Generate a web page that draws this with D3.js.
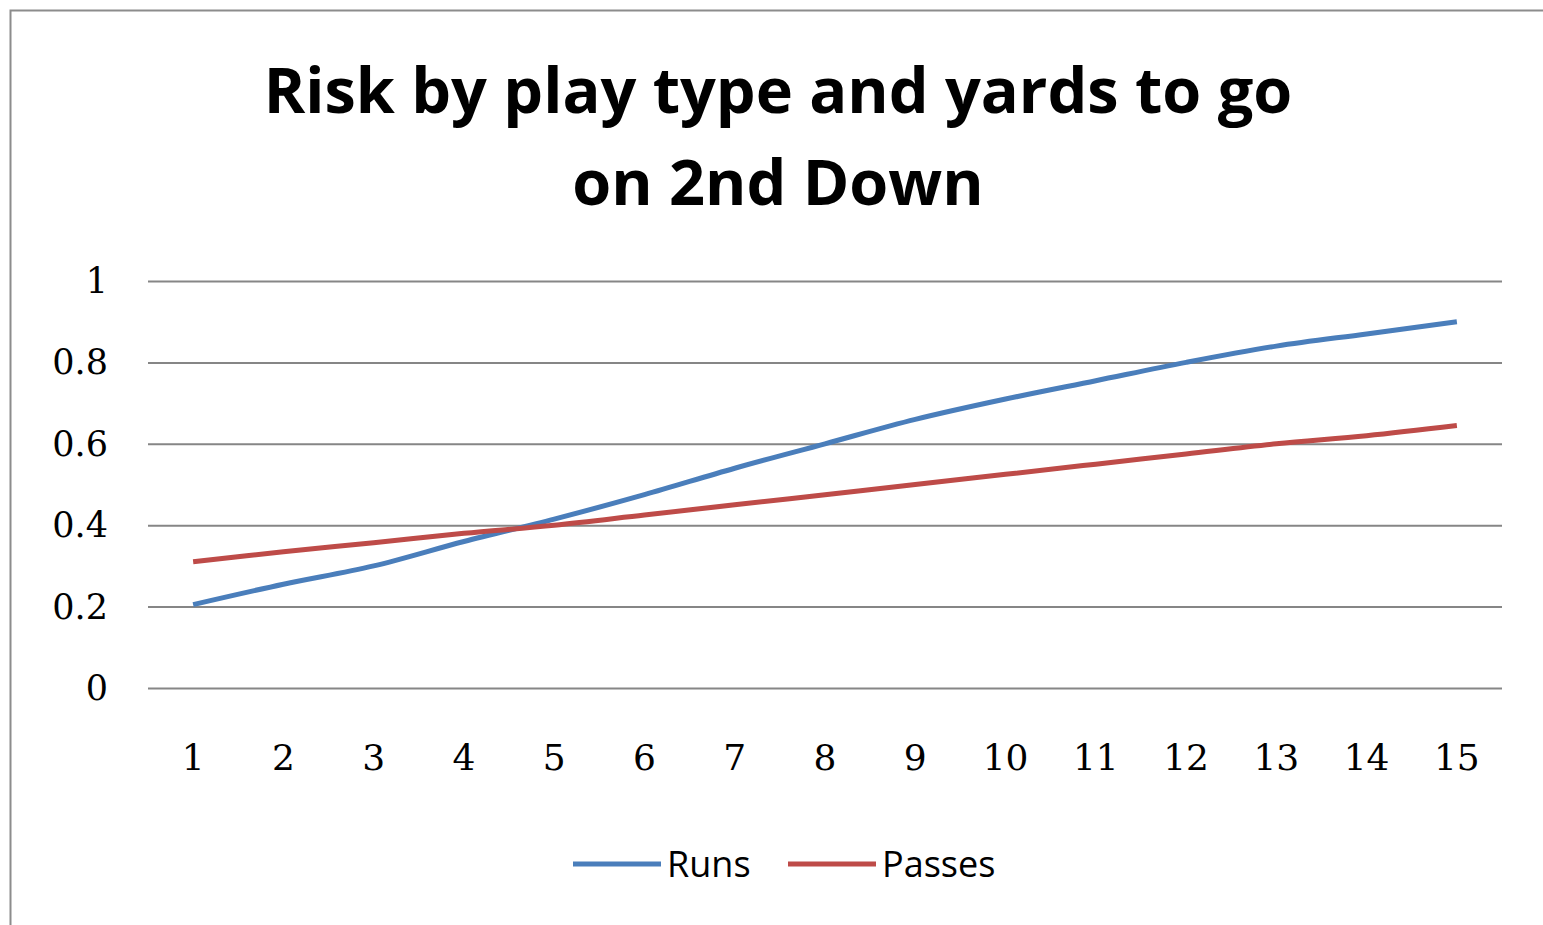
<!DOCTYPE html>
<html lang="en">
<head>
<meta charset="utf-8">
<title>Risk by play type</title>
<script src="https://cdn.jsdelivr.net/npm/d3@7"></script>
<style>
  body { margin: 0; background: #fff; }
</style>
</head>
<body>
<script>
// data
var yards = [1, 2, 3, 4, 5, 6, 7, 8, 9, 10, 11, 12, 13, 14, 15];
var runs = [0.205, 0.255, 0.30, 0.36, 0.415, 0.475, 0.54, 0.60, 0.66, 0.71, 0.755, 0.80, 0.84, 0.87, 0.90];
var passes = [0.31, 0.335, 0.357, 0.38, 0.40, 0.425, 0.45, 0.475, 0.50, 0.525, 0.55, 0.575, 0.60, 0.62, 0.645];
var yTicks = [0, 0.2, 0.4, 0.6, 0.8, 1];
var seriesNames = ["Runs", "Passes"];
var colors = ["#4A7EBB", "#BE4B48"];

var w = 1543, h = 925;
var plotLeft = 148, plotRight = 1502, plotTop = 281, plotBottom = 688;

var svg = d3.select("body").append("svg")
  .attr("width", w)
  .attr("height", h);

// chart frame
svg.append("path")
  .attr("d", "M10.5," + h + "V10.5H" + w)
  .attr("fill", "none")
  .attr("stroke", "#8c8c8c")
  .attr("stroke-width", 2);

// title
var title = svg.append("text")
  .attr("text-anchor", "middle")
  .attr("font-family", "'Open Sans', sans-serif")
  .attr("font-weight", "bold")
  .attr("font-size", "63px")
  .attr("fill", "#000");
title.append("tspan").attr("x", 778).attr("y", 113).text("Risk by play type and yards to go");
title.append("tspan").attr("x", 778).attr("y", 205).text("on 2nd Down");

var xScale = d3.scaleBand().domain(yards).range([plotLeft, plotRight]);
var yScale = d3.scaleLinear().domain([0, 1]).range([plotBottom, plotTop]);

// gridlines
svg.append("g").selectAll("line")
  .data(yTicks)
  .enter()
  .append("line")
  .attr("x1", plotLeft)
  .attr("x2", plotRight)
  .attr("y1", function(d) { return yScale(d) + 0.5; })
  .attr("y2", function(d) { return yScale(d) + 0.5; })
  .attr("stroke", "#868686")
  .attr("stroke-width", 2);

// y labels
svg.append("g").selectAll("text")
  .data(yTicks)
  .enter()
  .append("text")
  .attr("x", 108)
  .attr("y", function(d) { return yScale(d) + 12; })
  .attr("text-anchor", "end")
  .attr("font-family", "'DejaVu Serif', serif")
  .attr("font-size", "35px")
  .text(function(d) { return d; });

// x labels
svg.append("g").selectAll("text")
  .data(yards)
  .enter()
  .append("text")
  .attr("x", function(d) { return xScale(d) + xScale.bandwidth() / 2; })
  .attr("y", 770)
  .attr("text-anchor", "middle")
  .attr("font-family", "'DejaVu Serif', serif")
  .attr("font-size", "36px")
  .text(function(d) { return d; });

var line = d3.line()
  .x(function(d, i) { return xScale(yards[i]) + xScale.bandwidth() / 2; })
  .y(function(d) { return yScale(d); })
  .curve(d3.curveCatmullRom.alpha(0.5));

[runs, passes].forEach(function(s, i) {
  svg.append("path")
    .datum(s)
    .attr("d", line)
    .attr("fill", "none")
    .attr("stroke", colors[i])
    .attr("stroke-width", 5);
});

// legend
var legendX = [573, 788];
seriesNames.forEach(function(name, i) {
  svg.append("line")
    .attr("x1", legendX[i])
    .attr("x2", legendX[i] + 88)
    .attr("y1", 864)
    .attr("y2", 864)
    .attr("stroke", colors[i])
    .attr("stroke-width", 5);
  svg.append("text")
    .attr("x", legendX[i] + 94)
    .attr("y", 877)
    .attr("font-family", "'Open Sans', sans-serif")
    .attr("font-size", "36px")
    .text(name);
});
</script>
</body>
</html>
